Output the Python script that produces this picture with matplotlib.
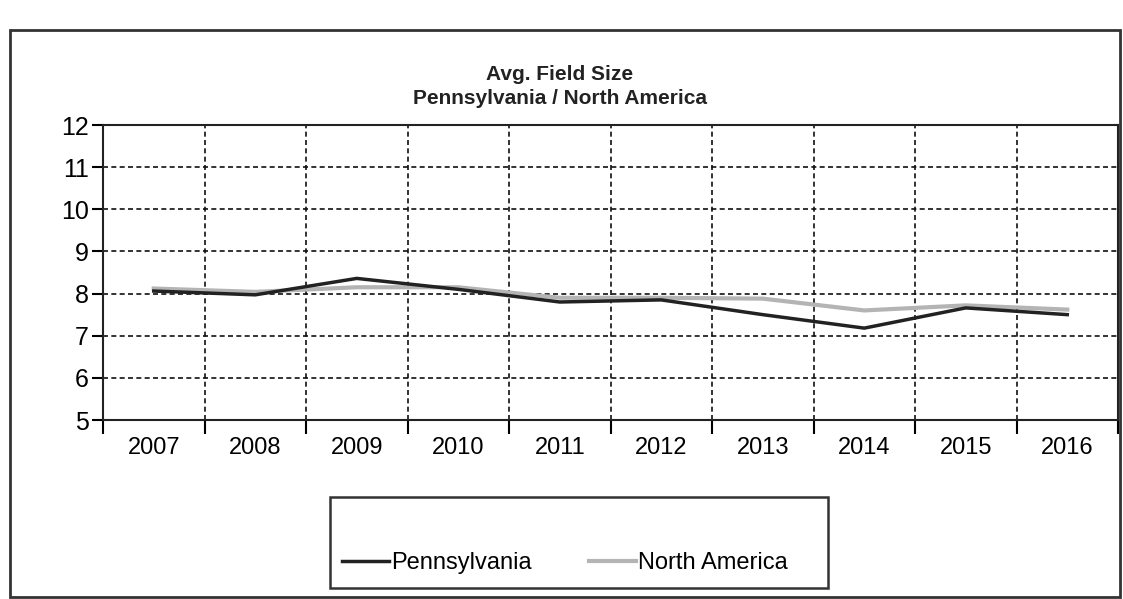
import matplotlib.pyplot as plt
from matplotlib.patches import Rectangle

years = ['2007', '2008', '2009', '2010', '2011', '2012', '2013', '2014', '2015', '2016']
pennsylvania = [8.06, 7.97, 8.36, 8.1, 7.8, 7.85, 7.5, 7.18, 7.66, 7.5]
north_america = [8.12, 8.04, 8.15, 8.15, 7.9, 7.9, 7.88, 7.6, 7.72, 7.62]
y_ticks = [5, 6, 7, 8, 9, 10, 11, 12]

plt.rcParams['font.family'] = ['Liberation Sans', 'DejaVu Sans']

fig = plt.figure(figsize=(11.23, 5.99), dpi=100)
ax = fig.add_axes([103/1123, 1-420/599, 1015/1123, 295/599])

x = range(len(years))
ax.plot(x, north_america, color='#b4b4b4', lw=3, label='North America', zorder=3)
ax.plot(x, pennsylvania, color='#222222', lw=2.5, label='Pennsylvania', zorder=4)

ax.set_xlim(-0.5, len(years) - 0.5)
ax.set_ylim(5, 12)
ax.set_yticks(y_ticks)
ax.set_yticklabels([str(v) for v in y_ticks], fontsize=18)
# category boundaries carry the ticks and gridlines, labels sit in between
ax.set_xticks([i - 0.5 for i in range(len(years) + 1)])
ax.set_xticklabels([])
ax.set_xticks(list(x), minor=True)
ax.set_xticklabels(years, minor=True, fontsize=17)
ax.tick_params(axis='x', which='minor', length=0, pad=12)
ax.tick_params(axis='x', which='major', length=10, width=1.5)
ax.tick_params(axis='y', length=8, width=1.5, pad=2)
ax.grid(True, which='major', color='#111111', linestyle=(0, (3, 2)), lw=1.2)
for s in ax.spines.values():
    s.set_linewidth(1.5)
    s.set_color('#222222')

fig.text(560/1123, 1-74/599, 'Avg. Field Size', ha='center', va='center', fontsize=15, fontweight='bold', color='#222222')
fig.text(560/1123, 1-99/599, 'Pennsylvania / North America', ha='center', va='center', fontsize=15, fontweight='bold', color='#222222')

# outer chart frame and legend box
fig.patches.append(Rectangle((10/1123, 2/599), 1110/1123, 567/599, transform=fig.transFigure,
                             fill=False, edgecolor='#333333', lw=2))
fig.patches.append(Rectangle((330/1123, 11/599), 498/1123, 91/599, transform=fig.transFigure,
                             fill=False, edgecolor='#333333', lw=1.8))

h, l = ax.get_legend_handles_labels()
fig.legend(h[::-1], l[::-1], loc='center', bbox_to_anchor=(565/1123, 1-563/599), ncol=2,
           frameon=False, fontsize=17, handlelength=2.0, handletextpad=0.1, columnspacing=2.4)

plt.savefig('out.png')
